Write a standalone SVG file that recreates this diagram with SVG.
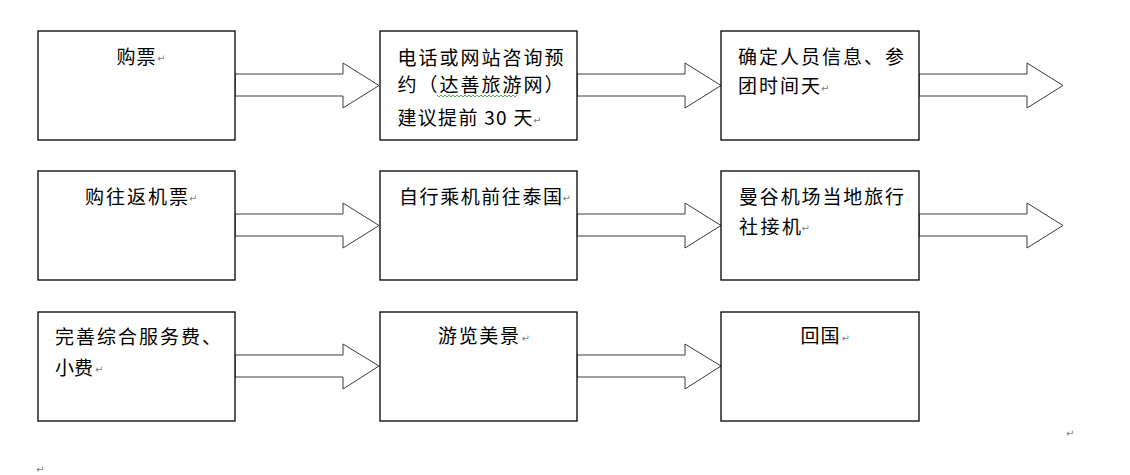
<svg xmlns="http://www.w3.org/2000/svg" width="1130" height="475" viewBox="0 0 1130 475">
<style>
.box{fill:#fff;stroke:#000;stroke-width:1.3}
.arrow{fill:#fff;stroke:#3a3a3a;stroke-width:1}
.t{font-family:"Noto Sans CJK SC","Noto Sans",sans-serif;font-size:19px;fill:#000}
.pm{font-family:"DejaVu Sans",sans-serif;font-size:10px;fill:#808080}
.wave{fill:none;stroke:#4caf50;stroke-width:1}
</style>
<rect x="0" y="0" width="1130" height="475" fill="#fff"/>
<g id="connectors">
<path class="arrow" d="M235,74 H343 V63 L379,85.5 L343,108 V96 H235 Z"/>
<path class="arrow" d="M577,74 H685 V63 L721,85.5 L685,108 V96 H577 Z"/>
<path class="arrow" d="M919,74 H1027 V63 L1063,85.5 L1027,108 V96 H919 Z"/>
<path class="arrow" d="M235,214 H343 V203 L379,225.5 L343,248 V236 H235 Z"/>
<path class="arrow" d="M577,214 H685 V203 L721,225.5 L685,248 V236 H577 Z"/>
<path class="arrow" d="M919,214 H1027 V203 L1063,225.5 L1027,248 V236 H919 Z"/>
<path class="arrow" d="M235,355 H343 V344 L379,366 L343,389 V377 H235 Z"/>
<path class="arrow" d="M577,355 H685 V344 L721,366 L685,389 V377 H577 Z"/>
</g>
<g id="node-buy">
<rect class="box" x="38" y="31" width="197" height="109"/>
<text class="t" x="116.5" y="64" textLength="39" lengthAdjust="spacing">购票</text>
<text class="pm" x="157" y="62">↵</text>
</g>
<g id="node-consult">
<rect class="box" x="380" y="31" width="197" height="109"/>
<text class="t" x="397.5" y="65" textLength="166" lengthAdjust="spacing">电话或网站咨询预</text>
<text class="t" x="397.5" y="92" textLength="166" lengthAdjust="spacing">约（达善旅游网）</text>
<polyline class="wave" points="437,95 439,97 441,95 443,97 445,95 447,97 449,95 451,97 453,95 455,97 457,95 459,97 461,95 463,97 465,95 467,97 469,95 471,97 473,95 475,97 477,95 479,97 481,95 483,97 485,95 487,97 489,95 491,97 493,95 495,97 497,95 499,97 501,95 503,97 505,95 507,97 509,95 511,97 513,95 515,97 517,95"/>
<text class="t" x="397.5" y="125" textLength="135" lengthAdjust="spacing">建议提前 30 天</text>
<text class="pm" x="533" y="124">↵</text>
</g>
<g id="node-confirm">
<rect class="box" x="721" y="31" width="198" height="109"/>
<text class="t" x="738" y="64" textLength="166" lengthAdjust="spacing">确定人员信息、参</text>
<text class="t" x="738" y="93" textLength="82" lengthAdjust="spacing">团时间天</text>
<text class="pm" x="821" y="92">↵</text>
</g>
<g id="node-ticket">
<rect class="box" x="38" y="171" width="197" height="109"/>
<text class="t" x="85" y="204" textLength="103" lengthAdjust="spacing">购往返机票</text>
<text class="pm" x="189" y="202">↵</text>
</g>
<g id="node-fly">
<rect class="box" x="380" y="171" width="197" height="109"/>
<text class="t" x="399" y="204" textLength="163" lengthAdjust="spacing">自行乘机前往泰国</text>
<text class="pm" x="562.5" y="202">↵</text>
</g>
<g id="node-airport">
<rect class="box" x="721" y="171" width="198" height="109"/>
<text class="t" x="739" y="204" textLength="165" lengthAdjust="spacing">曼谷机场当地旅行</text>
<text class="t" x="739" y="234" textLength="62" lengthAdjust="spacing">社接机</text>
<text class="pm" x="801.5" y="232">↵</text>
</g>
<g id="node-fee">
<rect class="box" x="38" y="312" width="197" height="109"/>
<text class="t" x="55" y="344" textLength="166" lengthAdjust="spacing">完善综合服务费、</text>
<text class="t" x="55" y="375" textLength="38" lengthAdjust="spacing">小费</text>
<text class="pm" x="95" y="373">↵</text>
</g>
<g id="node-tour">
<rect class="box" x="380" y="312" width="197" height="109"/>
<text class="t" x="438" y="343" textLength="81" lengthAdjust="spacing">游览美景</text>
<text class="pm" x="521.5" y="342">↵</text>
</g>
<g id="node-return">
<rect class="box" x="721" y="312" width="198" height="109"/>
<text class="t" x="800.5" y="343" textLength="39" lengthAdjust="spacing">回国</text>
<text class="pm" x="841.5" y="342">↵</text>
</g>
<text class="pm" x="1066" y="437">↵</text>
<text class="pm" x="36" y="473">↵</text>
</svg>
